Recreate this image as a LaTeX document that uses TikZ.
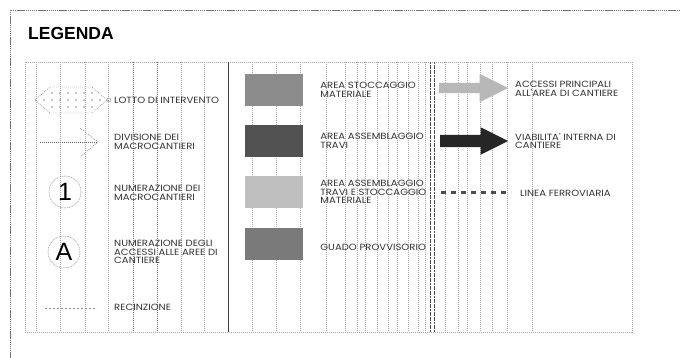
\documentclass[tikz,border=0pt]{standalone}
\usepackage{fontspec}
\setmainfont{Poppins}
\newfontfamily\legfont[FakeStretch=1.12]{Poppins}
\newfontfamily\titlefont{Liberation Sans}
\newfontfamily\digitfont{Liberation Sans}
\usepackage{tikz}
\usetikzlibrary{shapes.arrows, positioning, calc}

\begin{document}
\begin{tikzpicture}[
    x=1pt, y=-1pt,
    frameline/.style={draw=black!55, dash pattern=on 1.4pt off 0.7pt, line width=0.5pt},
    gridline/.style={draw=black!35, dash pattern=on 1pt off 1pt, line width=0.35pt},
    darkline/.style={draw=black!70, dash pattern=on 2pt off 0.6pt, line width=0.55pt},
    legtext/.style={font=\legfont\fontsize{9}{8.4}\selectfont, text=black!80, anchor=west, align=left, inner sep=0pt},
    swatch/.style={minimum width=58, minimum height=32, inner sep=0pt, draw=none},
    badge/.style={circle, draw=black!55, dash pattern=on 1pt off 0.8pt, minimum size=32, inner sep=0pt, font=\digitfont\fontsize{25}{25}\selectfont}
]
    \useasboundingbox (0,0) rectangle (680,358);

    % outer frame and title
    \draw [frameline] (680,10) -- (10,10) -- (10,358);
    \node (title) [anchor=west, inner sep=0pt, font=\titlefont\bfseries\fontsize{17.5}{17.5}\selectfont] at (28,33) {LEGENDA};

    % inner box with scan columns
    \draw [gridline] (25,62) rectangle (632,332);
    \foreach \x in {36,60,85,108,181,204,252,276,300,326,345,357,365,377,388,397,408,418,425,445,458,467,480,492,507,532}
        \draw [gridline] (\x,62) -- (\x,332);
    \foreach \x in {133,157}
        \draw [gridline, draw=black!55] (\x,62) -- (\x,332);
    \draw [draw=black!75, line width=0.6pt] (228,62) -- (228,332);
    \draw [darkline] (430,62) -- (430,332);
    \draw [darkline] (434,62) -- (434,332);

    % lotto di intervento
    \draw [gridline, draw=black!55] (35,100) -- (50,87) -- (92,87) -- (107,100) -- (92,113) -- (50,113) -- cycle;
    \foreach \x in {52,60,...,92} {
        \fill [black!45] (\x,93) circle (0.8);
        \fill [black!45] (\x,107) circle (0.8);
    }
    \foreach \x in {44,52,...,100}
        \fill [black!45] (\x,100) circle (0.8);
    \draw [black!50, line width=0.4pt] (109,100) circle (2);
    \node (lotto) [legtext] at (114,100) {LOTTO DI INTERVENTO};

    % divisione dei macrocantieri
    \coordinate (divtail) at (40,142);
    \coordinate (divtip) at (98,142);
    \draw [gridline, draw=black!60] (divtail) -- (divtip);
    \draw [gridline, draw=black!60] (80,128) -- (divtip) -- (80,157);
    \node (divisione) [legtext] at (114,142) {DIVISIONE DEI\\MACROCANTIERI};

    % numerazione
    \node (num) [badge] at (65,192) {1};
    \node (numlab) [legtext] at (114,193) {NUMERAZIONE DEI\\MACROCANTIERI};
    \node (acc) [badge] at (64,252) {A};
    \node (acclab) [legtext] at (114,252) {NUMERAZIONE DEGLI\\ACCESSI ALLE AREE DI\\CANTIERE};

    % recinzione
    \draw [black!45, dash pattern=on 2pt off 2pt, line width=0.4pt] (45,308) -- (97,308);
    \node (recinzione) [legtext] at (114,307) {RECINZIONE};

    % aree
    \node (stock) [swatch, fill=black!45] at (274,90) {};
    \node (stocklab) [legtext, right=17pt of stock] {AREA STOCCAGGIO\\MATERIALE};
    \node (assem) [swatch, fill=black!68] at (274,141) {};
    \node (assemlab) [legtext, right=17pt of assem] {AREA ASSEMBLAGGIO\\TRAVI};
    \node (mixed) [swatch, fill=black!25] at (274,192) {};
    \node (mixedlab) [legtext, right=17pt of mixed] {AREA ASSEMBLAGGIO\\TRAVI E STOCCAGGIO\\MATERIALE};
    \node (guado) [swatch, fill=black!52] at (274,244) {};
    \node (guadolab) [legtext, right=17pt of guado, yshift=-3pt] {GUADO PROVVISORIO};

    % accessi e viabilita
    \node (accessi) [single arrow, fill=black!28, draw=none, inner sep=5pt, minimum height=69, single arrow head extend=9pt, single arrow tip angle=53, anchor=tail] at (439,88) {};
    \node (accessilab) [legtext] at (515,89) {ACCESSI PRINCIPALI\\ALL'AREA DI CANTIERE};
    \node (viab) [single arrow, fill=black!85, draw=none, inner sep=6pt, minimum height=68, single arrow head extend=7.5pt, single arrow tip angle=53, anchor=tail] at (440,141) {};
    \node (viablab) [legtext] at (515,141) {VIABILITA' INTERNA DI\\CANTIERE};

    % linea ferroviaria
    \coordinate (railstart) at (441,193);
    \coordinate (railend) at (511,193);
    \draw [black!70, line width=3pt, dash pattern=on 5pt off 5pt] (railstart) -- (railend);
    \node (raillab) [legtext] at (520,193) {LINEA FERROVIARIA};
\end{tikzpicture}
\end{document}
